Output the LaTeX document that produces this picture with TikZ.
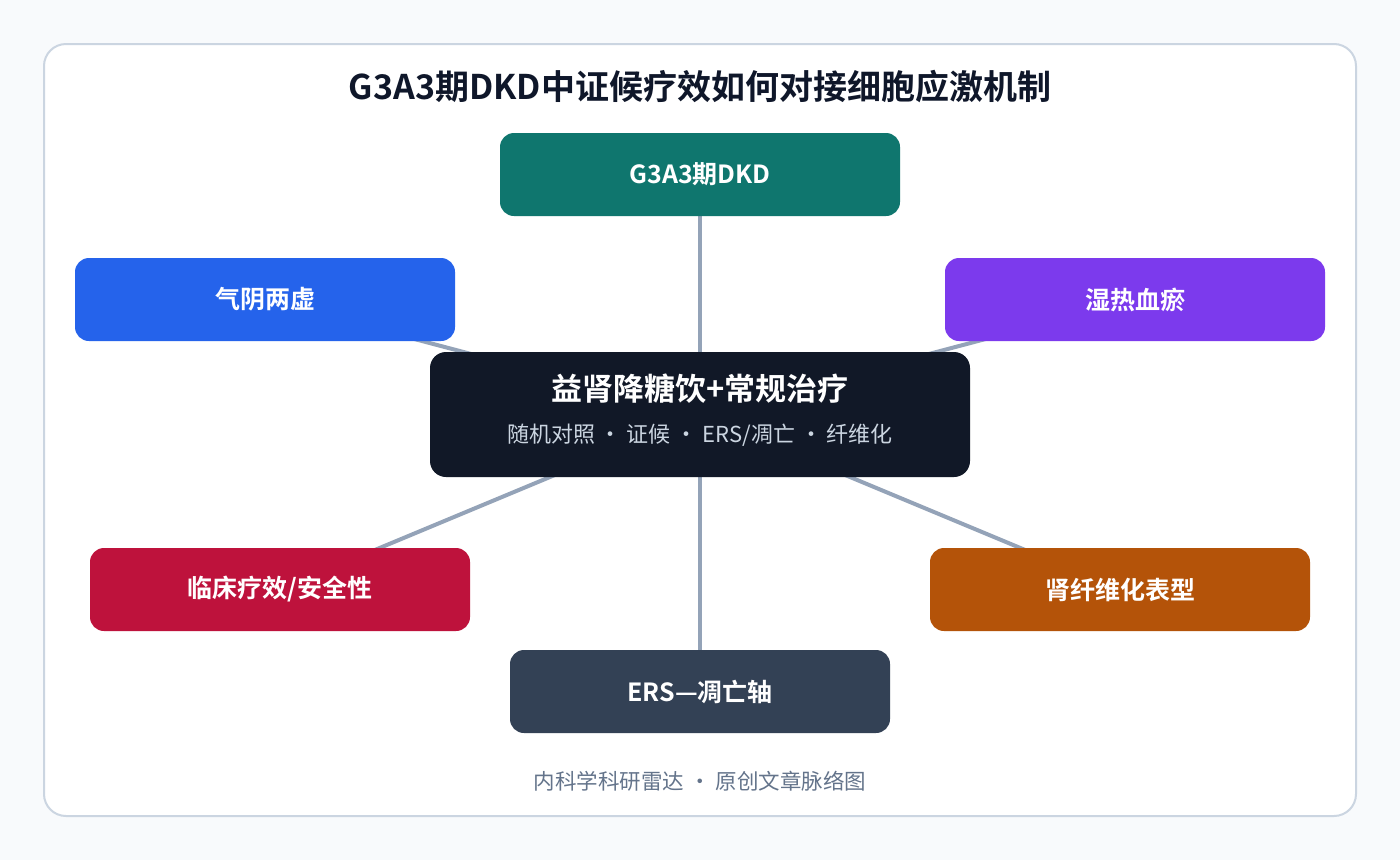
\documentclass[tikz,border=0pt]{standalone}
\usepackage{fontspec}
\setmainfont{Noto Sans CJK SC}[BoldFont={Noto Sans CJK SC Bold}]
\usetikzlibrary{backgrounds}
\definecolor{bg}{HTML}{F8FAFC}
\definecolor{cardborder}{HTML}{CBD5E1}
\definecolor{titlec}{HTML}{0F172A}
\definecolor{teal}{HTML}{0F766E}
\definecolor{blue}{HTML}{2563EB}
\definecolor{purp}{HTML}{7C3AED}
\definecolor{dark}{HTML}{111827}
\definecolor{crim}{HTML}{BE123C}
\definecolor{amber}{HTML}{B45309}
\definecolor{slate}{HTML}{334155}
\definecolor{linec}{HTML}{94A3B8}
\definecolor{subc}{HTML}{CBD5E1}
\definecolor{footc}{HTML}{64748B}
\begin{document}
\begin{tikzpicture}[x=1pt,y=-1pt,
  box/.style={rounded corners=14pt,inner sep=0pt,minimum width=380pt,minimum height=83pt,text=white,font=\bfseries\fontsize{25}{30}\selectfont},
  link/.style={draw=linec,line width=4pt}]
\useasboundingbox (0,0) rectangle (1400,860);
\node[font=\bfseries\fontsize{34}{40}\selectfont,text=titlec] (title) at (700,87) {G3A3期DKD中证候疗效如何对接细胞应激机制};
\node[box,fill=teal,minimum width=400pt] (top) at (700,174.5) {G3A3期DKD};
\node[box,fill=blue] (lt) at (265,299.5) {气阴两虚};
\node[box,fill=purp] (rt) at (1135,299.5) {湿热血瘀};
\node[box,fill=crim] (lb) at (280,589.5) {临床疗效/安全性};
\node[box,fill=amber] (rb) at (1120,589.5) {肾纤维化表型};
\node[box,fill=slate] (bt) at (700,691.5) {ERS—凋亡轴};
\node[fill=dark,rounded corners=16pt,minimum width=540pt,minimum height=125pt,inner sep=0pt] (c) at (700,414.5) {};
\node[font=\bfseries\fontsize{31}{36}\selectfont,text=white] (ct) at (700,389) {益肾降糖饮+常规治疗};
\node[font=\fontsize{22}{26}\selectfont,text=subc] (cs) at (700,435) {随机对照 · 证候 · ERS/凋亡 · 纤维化};
\node[font=\fontsize{21.5}{26}\selectfont,text=footc] (foot) at (700,781) {内科学科研雷达 · 原创文章脉络图};
\begin{scope}[on background layer]
\fill[bg] (0,0) rectangle (1400,860);
\draw[cardborder,line width=2pt,fill=white,rounded corners=22pt] (44,44) rectangle (1356,816);
\draw[link] (c.center) -- (top.center);
\draw[link] (c.center) -- (lt.center);
\draw[link] (c.center) -- (rt.center);
\draw[link] (c.center) -- (lb.center);
\draw[link] (c.center) -- (rb.center);
\draw[link] (c.center) -- (bt.center);
\end{scope}
\end{tikzpicture}
\end{document}
